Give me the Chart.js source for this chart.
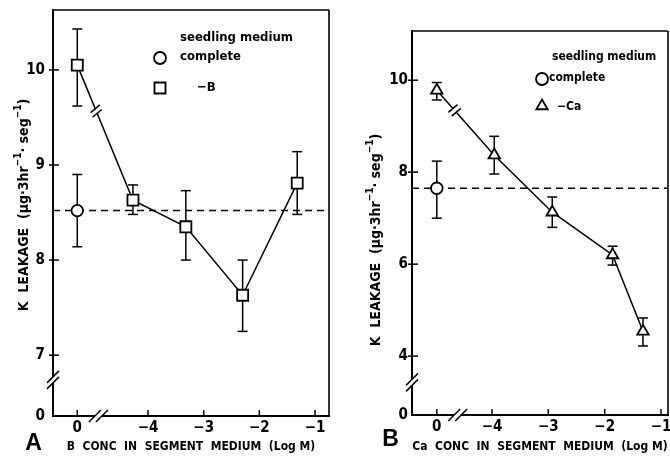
<!DOCTYPE html>
<html><head><meta charset="utf-8">
<script src="https://cdn.jsdelivr.net/npm/chart.js@4/dist/chart.umd.min.js"></script>
<style>
html,body{margin:0;padding:0;background:#fff;}
#wrap{position:relative;width:670px;height:458px;overflow:hidden;}
canvas{position:absolute;top:0;}
</style></head><body>
<div id="wrap">
<canvas id="cA" width="335" height="458" style="left:0"></canvas>
<canvas id="cB" width="335" height="458" style="left:335px"></canvas>
</div>
<script>
// ---------- DATA ----------
// Tick labels
const xTickLabels = [0, -4, -3, -2, -1];          // log M; 0 = none added
const yTickLabelsA = [0, 7, 8, 9, 10];
const yTickLabelsB = [0, 4, 6, 8, 10];

// Panel A: B conc in segment medium (log M)
const concB = [0, -4.27, -3.32, -2.30, -1.32];
const leakMinusB = [10.05, 8.63, 8.35, 7.63, 8.81];
const leakMinusBHigh = [10.43, 8.79, 8.73, 8.00, 9.14];
const leakMinusBLow = [9.62, 8.48, 8.00, 7.25, 8.48];
const concCompleteA = [0];
const leakCompleteA = [8.52];
const leakCompleteAHigh = [8.90];
const leakCompleteALow = [8.14];

// Panel B: Ca conc in segment medium (log M)
const concCa = [0, -3.96, -2.93, -1.86, -1.32];
const leakMinusCa = [9.78, 8.37, 7.13, 6.20, 4.54];
const leakMinusCaHigh = [9.95, 8.78, 7.46, 6.39, 4.83];
const leakMinusCaLow = [9.57, 7.96, 6.80, 5.98, 4.22];
const concCompleteB = [0];
const leakCompleteB = [7.65];
const leakCompleteBHigh = [8.24];
const leakCompleteBLow = [7.00];

// ---------- STYLE / LAYOUT ----------
const FONT = '"Liberation Sans Narrow", "DejaVu Sans Condensed", "DejaVu Sans", sans-serif';
const LETTER_FONT = '"Liberation Sans", Arial, sans-serif';

function fmtX(v){ return v === 0 ? '0' : '\u2212' + Math.abs(v); }

function makePanel(cfg){
  const canvas = document.getElementById(cfg.canvas);
  const W = canvas.width, H = canvas.height;
  const AR = cfg.area;
  const mapX = v => v === 0 ? cfg.x.zeroAt : v;
  const mapY = v => v === 0 ? cfg.y.zeroAt : v;
  const pts = (xs, ys) => xs.map((x, i) => ({x: mapX(x), y: ys[i]}));

  function line(ctx, x1, y1, x2, y2){ ctx.beginPath(); ctx.moveTo(x1, y1); ctx.lineTo(x2, y2); ctx.stroke(); }

  const deco = {
    id: 'deco' + cfg.letter,
    beforeDatasetsDraw(chart){
      const ctx = chart.ctx, xs = chart.scales.x, ys = chart.scales.y;
      ctx.save();
      ctx.strokeStyle = '#000'; ctx.lineWidth = 1.5;
      cfg.errors.forEach(e => {
        e.xs.forEach((x, i) => {
          const px = xs.getPixelForValue(mapX(x));
          const yh = ys.getPixelForValue(e.hi[i]);
          const yl = ys.getPixelForValue(e.lo[i]);
          line(ctx, px, yh, px, yl);
          line(ctx, px - 5, yh, px + 5, yh);
          line(ctx, px - 5, yl, px + 5, yl);
        });
      });
      ctx.restore();
    },
    afterDatasetsDraw(chart){
      const ctx = chart.ctx, xs = chart.scales.x, ys = chart.scales.y;
      const s = cfg.lineBreak;
      const x0 = xs.getPixelForValue(mapX(s.xs[0])), y0 = ys.getPixelForValue(s.ys[0]);
      const x1 = xs.getPixelForValue(mapX(s.xs[1])), y1 = ys.getPixelForValue(s.ys[1]);
      const px = x0 + s.t * (x1 - x0), py = y0 + s.t * (y1 - y0);
      const L = Math.hypot(x1 - x0, y1 - y0), dx = (x1 - x0) / L, dy = (y1 - y0) / L;
      ctx.save();
      ctx.strokeStyle = '#fff'; ctx.lineWidth = 4;
      line(ctx, px - dx * 2, py - dy * 2, px + dx * 2, py + dy * 2);
      ctx.strokeStyle = '#000'; ctx.lineWidth = 1.5;
      const mx = Math.cos(-0.7) * 6, my = Math.sin(-0.7) * 6;
      [-2.5, 2.5].forEach(o => {
        const cx = px + dx * o, cy = py + dy * o;
        line(ctx, cx - mx, cy - my, cx + mx, cy + my);
      });
      ctx.restore();
    },
    afterDraw(chart){
      const ctx = chart.ctx, xs = chart.scales.x, ys = chart.scales.y;
      const ca = chart.chartArea;
      ctx.save();
      ctx.strokeStyle = '#000';
      ctx.lineWidth = 1.6;
      line(ctx, ca.left, ca.top, ca.right, ca.top);
      line(ctx, ca.right, ca.top, ca.right, ca.bottom);
      ctx.lineWidth = 1.5;
      ys.ticks.forEach(t => { const p = ys.getPixelForValue(t.value); if (Math.abs(p - ca.bottom) > 2) line(ctx, ca.left - 4, p, ca.left + 6, p); });
      xs.ticks.forEach(t => { const p = xs.getPixelForValue(t.value); line(ctx, p, ca.bottom, p, ca.bottom - 6); });
      const by = ys.getPixelForValue(cfg.y.breakAt);
      ctx.strokeStyle = '#fff'; ctx.lineWidth = 4;
      line(ctx, ca.left, by - 3, ca.left, by + 3);
      const bx = xs.getPixelForValue(cfg.x.breakAt);
      line(ctx, bx - 3.5, ca.bottom, bx + 3.5, ca.bottom);
      ctx.strokeStyle = '#000'; ctx.lineWidth = 1.5;
      [-3, 3].forEach(o => line(ctx, ca.left - 6, by + o + 6, ca.left + 6, by + o - 6));
      [-3.5, 3.5].forEach(o => line(ctx, bx + o - 6, ca.bottom + 6, bx + o + 6, ca.bottom - 6));
      // legend
      const lg = cfg.legend;
      ctx.fillStyle = '#000';
      ctx.font = `bold ${lg.size}px ${FONT}`;
      ctx.textBaseline = 'middle'; ctx.textAlign = 'left';
      ctx.fillText('seedling medium', lg.head[0], lg.head[1]);
      ctx.fillText('complete', lg.c[2], lg.c[3]);
      ctx.fillText(cfg.label, lg.m[2], lg.m[3]);
      ctx.lineWidth = 1.8;
      ctx.fillStyle = '#fff';
      ctx.beginPath(); ctx.arc(lg.c[0], lg.c[1], 6, 0, Math.PI * 2); ctx.fill(); ctx.stroke();
      if (cfg.markerStyle === 'rect') {
        ctx.beginPath(); ctx.rect(lg.m[0] - 5.5, lg.m[1] - 5.5, 11, 11); ctx.stroke();
      } else {
        const r = 6.5;
        ctx.beginPath();
        ctx.moveTo(lg.m[0], lg.m[1] - r);
        ctx.lineTo(lg.m[0] + r * 0.866, lg.m[1] + r * 0.5);
        ctx.lineTo(lg.m[0] - r * 0.866, lg.m[1] + r * 0.5);
        ctx.closePath(); ctx.stroke();
      }
      // y-axis title
      ctx.fillStyle = '#000';
      const parts = [['K  LEAKAGE  (\u03bcg\u00b73hr', false], ['\u22121', true], ['\u00b7 seg', false], ['\u22121', true], [')', false]];
      const fB = `bold 14px ${FONT}`, fS = `bold 10px ${FONT}`;
      let total = 0;
      parts.forEach(p => { ctx.font = p[1] ? fS : fB; total += ctx.measureText(p[0]).width; });
      ctx.translate(cfg.yTitle[0], cfg.yTitle[1]);
      ctx.rotate(-Math.PI / 2);
      let x = -total / 2;
      parts.forEach(p => { ctx.font = p[1] ? fS : fB; ctx.fillText(p[0], x, p[1] ? -6 : 0); x += ctx.measureText(p[0]).width; });
      ctx.setTransform(1, 0, 0, 1, 0, 0);
      ctx.font = `bold 23px ${LETTER_FONT}`;
      ctx.textAlign = 'center';
      ctx.fillText(cfg.letter, cfg.letterPos[0], cfg.letterPos[1]);
      ctx.restore();
    }
  };

  const tickFont = {family: FONT, size: 15, weight: 'bold'};
  return new Chart(canvas, {
    type: 'scatter',
    data: {
      datasets: [
        { label: cfg.label, data: pts(cfg.series.xs, cfg.series.ys), showLine: true,
          borderColor: '#000', borderWidth: 1.5, tension: 0,
          pointStyle: cfg.markerStyle, pointRadius: cfg.markerStyle === 'rect' ? 7.8 : 6.6,
          pointBackgroundColor: '#fff', pointBorderColor: '#000', pointBorderWidth: 1.8, order: 1 },
        { label: 'complete', data: pts(cfg.complete.xs, cfg.complete.ys), showLine: false,
          pointStyle: 'circle', pointRadius: 5.8,
          pointBackgroundColor: '#fff', pointBorderColor: '#000', pointBorderWidth: 1.8, order: 0 },
        { label: 'complete level', data: [{x: cfg.x.min, y: cfg.complete.ys[0]}, {x: cfg.x.max, y: cfg.complete.ys[0]}],
          showLine: true, borderColor: '#000', borderWidth: 1.5, borderDash: [7, 5], pointRadius: 0, order: 2 }
      ]
    },
    options: {
      responsive: false, animation: false, events: [],
      layout: { autoPadding: false, padding: { top: AR.top, right: W - AR.right, left: 0, bottom: 0 } },
      plugins: { legend: { display: false }, tooltip: { enabled: false } },
      scales: {
        x: {
          type: 'linear', min: cfg.x.min, max: cfg.x.max,
          afterFit(s){ s.height = H - AR.bottom; s.paddingLeft = 0; s.paddingRight = 0; s.paddingTop = 0; s.paddingBottom = 0; },
          afterBuildTicks(s){ s.ticks = xTickLabels.map(v => ({value: mapX(v)})); },
          ticks: { callback: (v, i) => fmtX(xTickLabels[i]), font: tickFont, color: '#000', padding: 3, maxRotation: 0, autoSkip: false },
          grid: { display: true, drawOnChartArea: false, drawTicks: false },
          border: { display: true, color: '#000', width: 2 },
          title: { display: true, text: cfg.xTitle, color: '#000', font: {family: FONT, size: 12, weight: 'bold'}, padding: {top: 0, bottom: 4} }
        },
        y: {
          type: 'linear', min: cfg.y.min, max: cfg.y.max,
          afterFit(s){ s.width = AR.left; s.paddingTop = 0; s.paddingBottom = 0; s.paddingLeft = 0; s.paddingRight = 0; },
          afterBuildTicks(s){ s.ticks = cfg.yTicks.map(v => ({value: mapY(v)})); },
          ticks: { callback: (v, i) => String(cfg.yTicks[i]), font: tickFont, color: '#000', padding: cfg.yPad, autoSkip: false },
          grid: { display: true, drawOnChartArea: false, drawTicks: false },
          border: { display: true, color: '#000', width: 2 }
        }
      }
    },
    plugins: [deco]
  });
}

makePanel({
  canvas: 'cA', letter: 'A', letterPos: [33.5, 444], label: '\u2212B', markerStyle: 'rect',
  area: {left: 53, top: 10, right: 329, bottom: 416},
  x: {min: -5.706, max: -0.749, zeroAt: -5.27, breakAt: -4.89},
  y: {min: 6.36, max: 10.63, zeroAt: 6.36, breakAt: 6.74},
  yTicks: yTickLabelsA, yPad: 8,
  series: {xs: concB, ys: leakMinusB},
  complete: {xs: concCompleteA, ys: leakCompleteA},
  errors: [{xs: concB, hi: leakMinusBHigh, lo: leakMinusBLow}, {xs: concCompleteA, hi: leakCompleteAHigh, lo: leakCompleteALow}],
  lineBreak: {xs: concB, ys: leakMinusB, t: 0.34},
  legend: {size: 13, head: [180, 38], c: [160, 58, 180, 57], m: [160, 88, 197, 88]},
  yTitle: [24, 205],
  xTitle: 'B  CONC  IN  SEGMENT  MEDIUM  (Log M)'
});

makePanel({
  canvas: 'cB', letter: 'B', letterPos: [55.5, 440], label: '\u2212Ca', markerStyle: 'triangle',
  area: {left: 77, top: 31, right: 333, bottom: 415},
  x: {min: -5.42, max: -0.876, zeroAt: -4.98, breakAt: -4.61},
  y: {min: 2.72, max: 11.07, zeroAt: 2.72, breakAt: 3.43},
  yTicks: yTickLabelsB, yPad: 4,
  series: {xs: concCa, ys: leakMinusCa},
  complete: {xs: concCompleteB, ys: leakCompleteB},
  errors: [{xs: concCa, hi: leakMinusCaHigh, lo: leakMinusCaLow}, {xs: concCompleteB, hi: leakCompleteBHigh, lo: leakCompleteBLow}],
  lineBreak: {xs: concCa, ys: leakMinusCa, t: 0.31},
  legend: {size: 12, head: [217, 57], c: [207, 79, 214, 78], m: [207, 106, 222, 107]},
  yTitle: [41, 240],
  xTitle: 'Ca  CONC  IN  SEGMENT  MEDIUM  (Log M)'
});
</script>
</body></html>
